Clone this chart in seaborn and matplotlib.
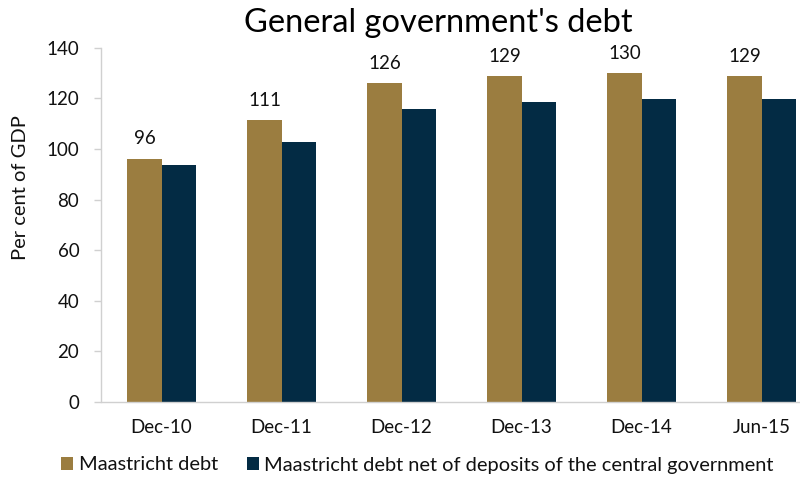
import matplotlib
matplotlib.use("Agg")
import matplotlib.pyplot as plt
import seaborn as sns
import pandas as pd
from matplotlib.patches import Patch

# Data (per cent of GDP)
periods = ["Dec-10", "Dec-11", "Dec-12", "Dec-13", "Dec-14", "Jun-15"]
maastricht_debt = [96.2, 111.4, 126.1, 128.9, 130.1, 128.7]
net_of_deposits = [93.8, 102.9, 115.8, 118.4, 119.9, 119.9]
series_names = ["Maastricht debt",
                "Maastricht debt net of deposits of the central government"]
y_ticks = [0, 20, 40, 60, 80, 100, 120, 140]

gold = "#9B7D40"
navy = "#032B44"

df = pd.DataFrame({
    "period": periods * 2,
    "value": maastricht_debt + net_of_deposits,
    "series": [series_names[0]] * len(periods) + [series_names[1]] * len(periods),
})

sns.set_style("white")
plt.rcParams["font.family"] = ["Lato", "DejaVu Sans"]

fig = plt.figure(figsize=(8.0, 4.78), dpi=100)
ax = fig.add_axes([101.5 / 800, 76 / 478, 720 / 800, 354.3 / 478])

sns.barplot(data=df, x="period", y="value", hue="series", order=periods,
            hue_order=series_names, palette=[gold, navy], width=0.567,
            saturation=1, legend=False, ax=ax, linewidth=0)

ax.set_xlim(-0.5, 5.5)
ax.set_ylim(0, 140)
ax.set_yticks(y_ticks)
ax.set_xlabel("")
ax.set_ylabel("Per cent of GDP", fontsize=14.5, color="#111111")
ax.yaxis.set_label_coords(-0.1, 0.605)

for side in ("top", "right"):
    ax.spines[side].set_visible(False)
for side in ("left", "bottom"):
    ax.spines[side].set_color("#D0D0D0")
    ax.spines[side].set_linewidth(1.0)

ax.tick_params(axis="y", direction="out", length=5, width=1.0, color="#D0D0D0",
               pad=11, labelsize=13.5, labelcolor="#111111", left=True)
ax.tick_params(axis="x", length=0, pad=12, labelsize=13.5, labelcolor="#111111")

# Value labels above the Maastricht debt bars
ax.bar_label(ax.containers[0], fmt="%.0f", padding=8, fontsize=13.5, color="#111111")

fig.text(438.5 / 800, 1 - 32 / 478, "General government's debt", ha="center",
         va="baseline", fontsize=23.5, color="#000000")

handles = [Patch(facecolor=gold, edgecolor="none"),
           Patch(facecolor=navy, edgecolor="none")]
fig.legend(handles, series_names, loc="center left",
           bbox_to_anchor=(61 / 800, 1 - 465 / 478), ncol=2, frameon=False,
           fontsize=14.4, handlelength=0.6, handleheight=0.6,
           handletextpad=0.28, columnspacing=1.45, borderpad=0, borderaxespad=0,
           labelcolor="#111111")

fig.savefig("out.png", dpi=100)
